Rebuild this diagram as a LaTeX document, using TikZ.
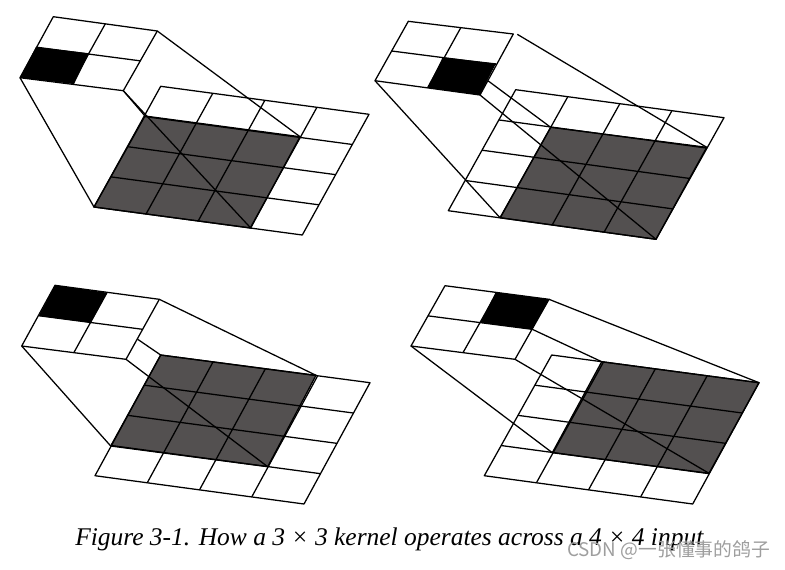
\documentclass[tikz,border=0pt]{standalone}
\usepackage{fontspec}
\setmainfont{Liberation Serif}
\newfontfamily\cjk{Noto Sans CJK SC}
\usetikzlibrary{calc}
\definecolor{slab}{HTML}{535050}
\newcommand{\cellgrid}[6]{%
\draw[gridline] (#1)--(#2)--(#3)--(#4)--cycle;
\foreach \i in {1,...,#5} {
\draw[gridline] ($(#1)!{\i/(#5+1)}!(#2)$)--($(#4)!{\i/(#5+1)}!(#3)$);
}
\foreach \j in {1,...,#6} {
\draw[gridline] ($(#1)!{\j/(#6+1)}!(#4)$)--($(#2)!{\j/(#6+1)}!(#3)$);
}
}
\begin{document}
\begin{tikzpicture}[x=.75pt,y=-.75pt,gridline/.style={black,line width=.95pt,line join=round},
blackcell/.style={fill=black},slabcell/.style={fill=slab,draw=black,line width=.95pt,line join=round}]
\useasboundingbox (0,0) rectangle (785,569);
% top left
\coordinate (ka) at (53.3,16.7);
\coordinate (kb) at (157.3,31);
\coordinate (kc) at (123.3,90.7);
\coordinate (kd) at (20,77.7);
\coordinate (ia) at (160.7,86.3);
\coordinate (ib) at (369,114.3);
\coordinate (ic) at (302.3,235);
\coordinate (id) at (94,207);
\coordinate (ga) at (145,116);
\coordinate (gb) at (300,136.7);
\coordinate (gc) at (250.7,228);
\coordinate (gd) at (94,207);
\fill[blackcell] (36,47)--(89.3,53.3)--(74,84)--(kd)--cycle;
\path[slabcell] (ga)--(gb)--(gc)--(gd)--cycle;
\cellgrid{ka}{kb}{kc}{kd}{1}{1}
\cellgrid{ia}{ib}{ic}{id}{3}{3}
\draw[gridline] (kd)--(gd);
\draw[gridline] (kc)--(gc);
\draw[gridline] (kb)--(gb);
\draw[gridline] (kc)--(ga);
% top right
\coordinate (ka) at (408.3,21.3);
\coordinate (kb) at (513.3,34);
\coordinate (kc) at (480,95);
\coordinate (kd) at (375,80.7);
\coordinate (ke) at (517.3,34.3);
\coordinate (kf) at (488.3,81);
\coordinate (ia) at (515.7,89.7);
\coordinate (ib) at (724,117.7);
\coordinate (ic) at (656,239.3);
\coordinate (id) at (448.3,210.7);
\coordinate (ga) at (550.7,127.3);
\coordinate (gb) at (706.7,147.3);
\coordinate (gc) at (656,239.3);
\coordinate (gd) at (500,217.7);
\fill[blackcell] (442.7,57.3)--(496,63.3)--(kc)--(427.7,87.7)--cycle;
\path[slabcell] (ga)--(gb)--(gc)--(gd)--cycle;
\cellgrid{ka}{kb}{kc}{kd}{1}{1}
\cellgrid{ia}{ib}{ic}{id}{3}{3}
\draw[gridline] (kd)--(gd);
\draw[gridline] (kc)--(gc);
\draw[gridline] (ke)--(gb);
\draw[gridline] (kf)--(ga);
% bottom left
\coordinate (ka) at (55,285.3);
\coordinate (kb) at (159.3,299.3);
\coordinate (kc) at (126,359.3);
\coordinate (kd) at (21.7,346);
\coordinate (kf) at (137.7,339.3);
\coordinate (ia) at (160.7,355);
\coordinate (ib) at (370,382.7);
\coordinate (ic) at (304,504);
\coordinate (id) at (95,475.7);
\coordinate (ga) at (160.7,355);
\coordinate (gb) at (316,375.3);
\coordinate (gc) at (267.7,466.7);
\coordinate (gd) at (110.7,446);
\fill[blackcell] (ka)--(107.3,292.7)--(90.7,322.7)--(38.7,316)--cycle;
\path[slabcell] (ga)--(gb)--(gc)--(gd)--cycle;
\cellgrid{ka}{kb}{kc}{kd}{1}{1}
\cellgrid{ia}{ib}{ic}{id}{3}{3}
\draw[gridline] (kd)--(gd);
\draw[gridline] (kc)--(gc);
\draw[gridline] (kb)--(gb);
\draw[gridline] (kf)--(ga);
% bottom right
\coordinate (ka) at (445,285.7);
\coordinate (kb) at (549,299.3);
\coordinate (kc) at (515,359.3);
\coordinate (kd) at (411,346);
\coordinate (kf) at (532.3,329.3);
\coordinate (ia) at (551.7,355);
\coordinate (ib) at (759,382.7);
\coordinate (ic) at (692.7,504);
\coordinate (id) at (484.3,475.7);
\coordinate (ga) at (601.7,361.7);
\coordinate (gb) at (759,382.7);
\coordinate (gc) at (709,473.3);
\coordinate (gd) at (552.3,452.7);
\fill[blackcell] (495.7,292.3)--(kb)--(kf)--(480,322.7)--cycle;
\path[slabcell] (ga)--(gb)--(gc)--(gd)--cycle;
\cellgrid{ka}{kb}{kc}{kd}{1}{1}
\cellgrid{ia}{ib}{ic}{id}{3}{3}
\draw[gridline] (kd)--(gd);
\draw[gridline] (kc)--(gc);
\draw[gridline] (kb)--(gb);
\draw[gridline] (kf)--(ga);
\node[anchor=base west,inner sep=0pt,font=\fontsize{19.1}{22}\selectfont\itshape] (caption) at (75,545) {Figure 3-1. How a 3 × 3 kernel operates across a 4 × 4 input};
\node[anchor=base west,inner sep=0pt,text=black!38,font=\fontsize{14.1}{16}\cjk] (mark) at (567,556) {CSDN @一张懂事的鸽子};
\end{tikzpicture}
\end{document}
